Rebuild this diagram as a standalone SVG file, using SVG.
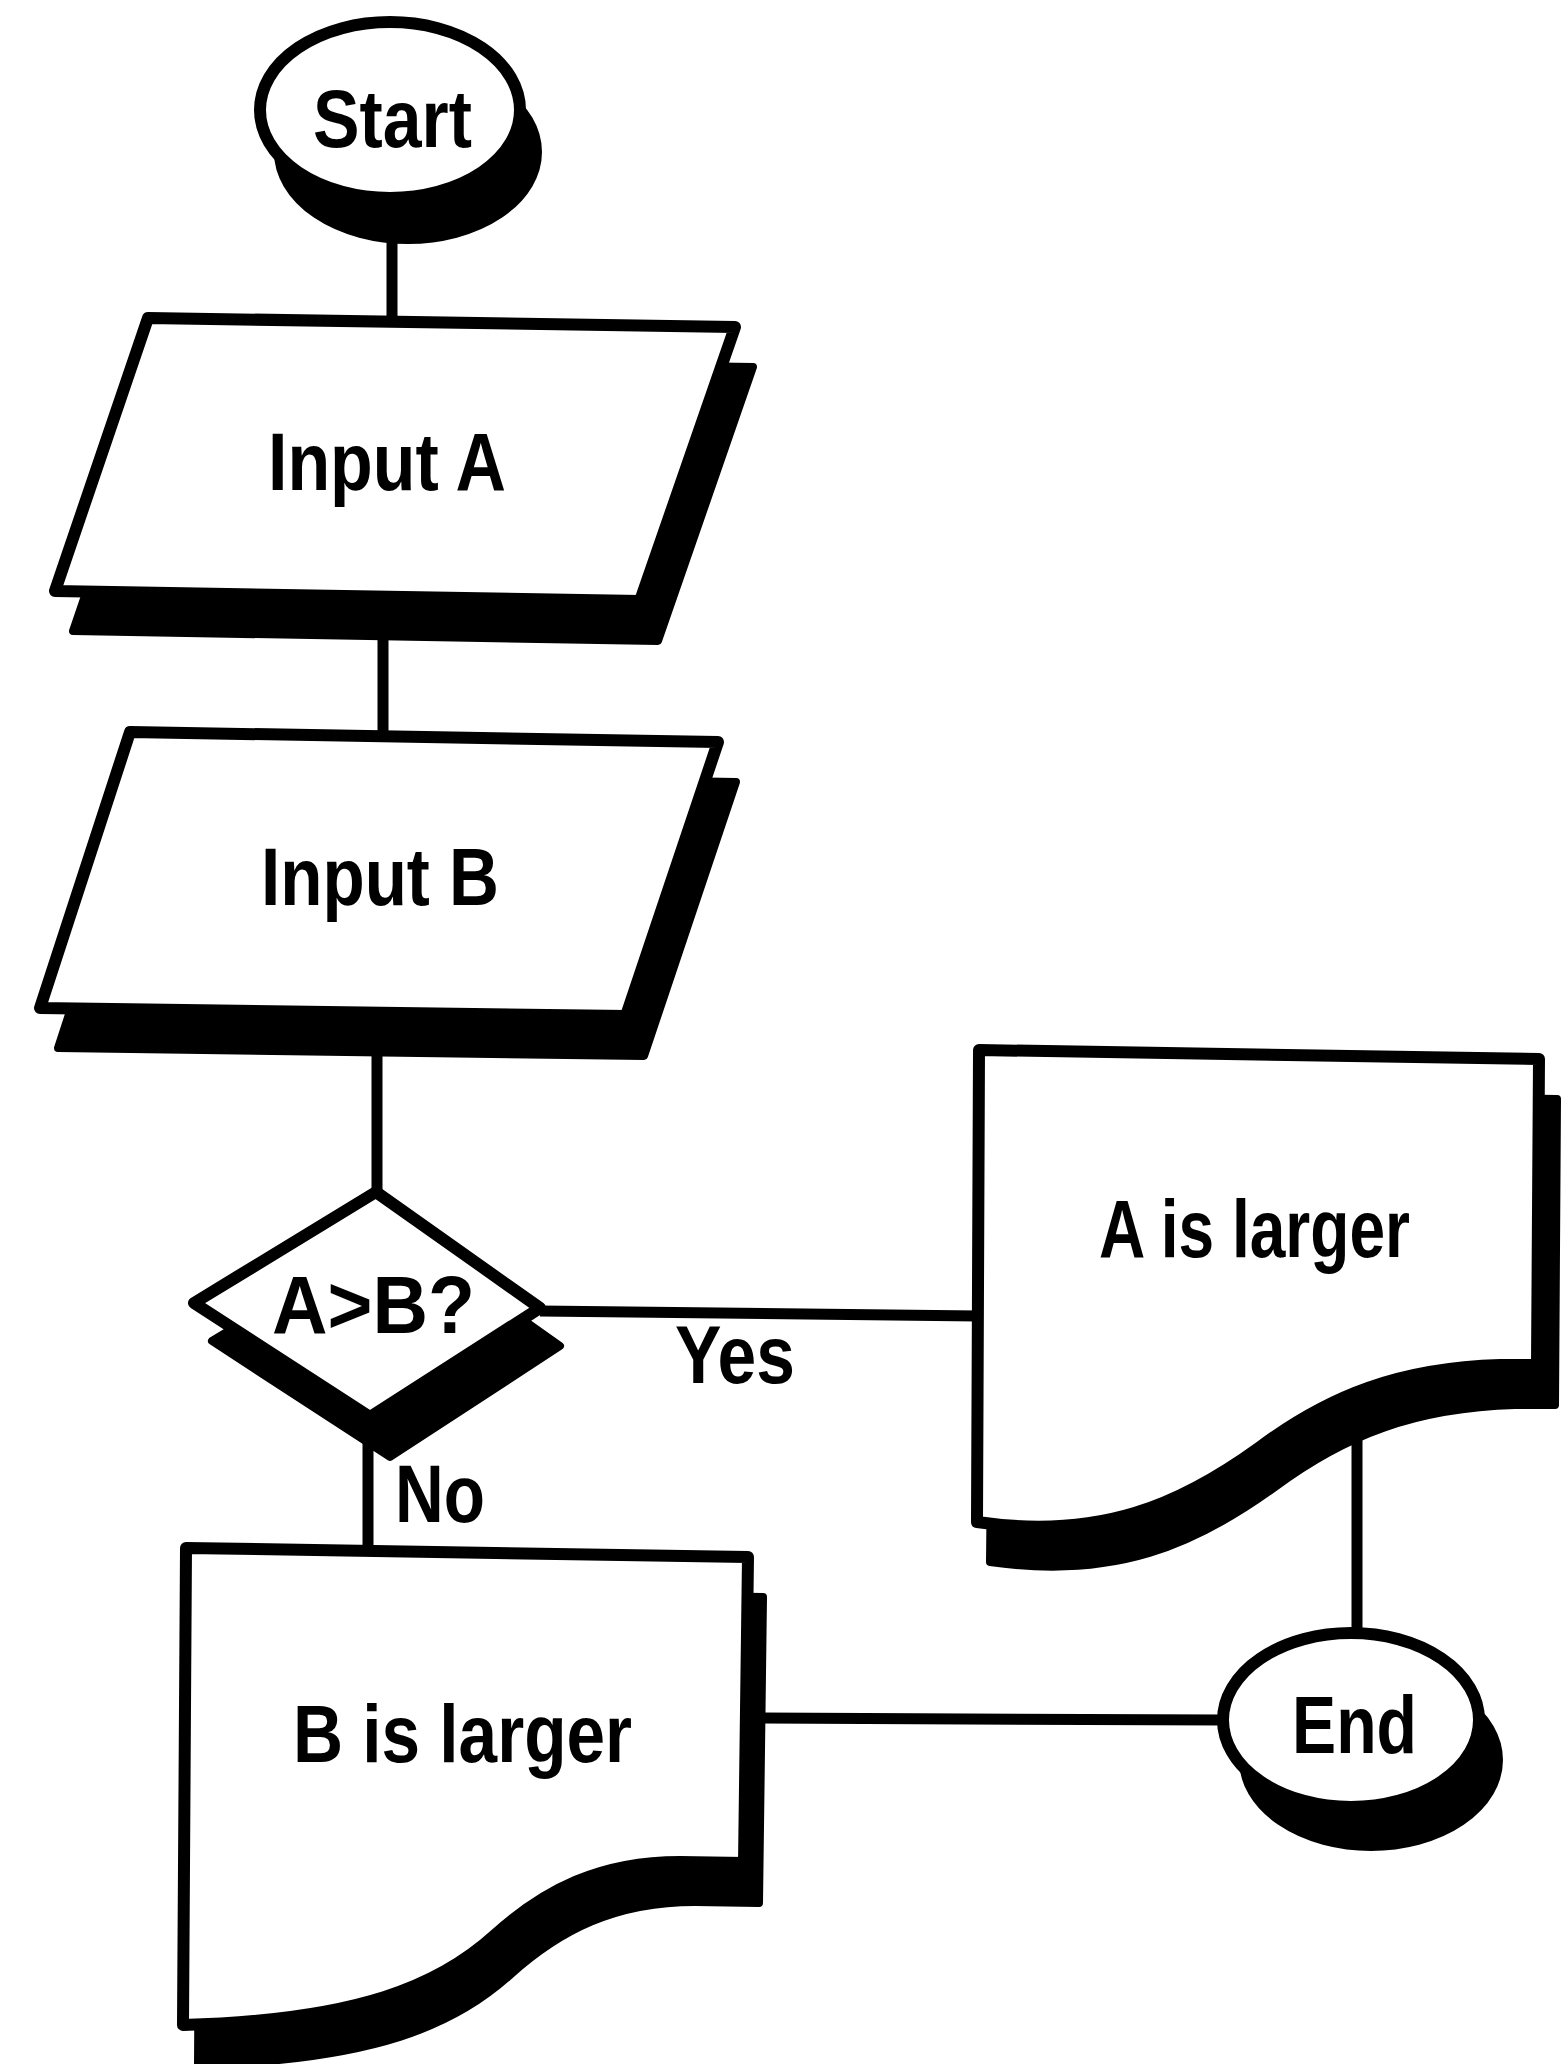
<svg xmlns="http://www.w3.org/2000/svg" width="1562" height="2064" viewBox="0 0 1562 2064">
<style>
.bg{fill:#fff}
.shadow{fill:#000;stroke:#000;stroke-width:8;stroke-linejoin:round}
.shape{fill:#fff;stroke:#000;stroke-width:12;stroke-linejoin:round}
.conn{stroke:#000;stroke-width:11;fill:none;stroke-linecap:butt}
.t{font-family:"Liberation Sans",Arial,Helvetica,sans-serif;font-weight:bold;font-size:82px;fill:#000}
</style>
<rect class="bg" x="0" y="0" width="1562" height="2064"/>
<g id="connectors">
  <line class="conn" x1="392" y1="200" x2="392" y2="320"/>
  <line class="conn" x1="383" y1="600" x2="383" y2="734"/>
  <line class="conn" x1="377" y1="1010" x2="377" y2="1192"/>
  <line class="conn" x1="540" y1="1311" x2="978" y2="1316"/>
  <line class="conn" x1="368" y1="1417" x2="368" y2="1548"/>
  <line class="conn" x1="1357" y1="1400" x2="1357" y2="1632"/>
  <line class="conn" x1="750" y1="1718" x2="1222" y2="1720"/>
</g>
<g id="node-start">
  <ellipse class="shadow" cx="408" cy="152" rx="130" ry="88"/>
  <ellipse class="shape" cx="390" cy="110" rx="130" ry="88"/>
  <text class="t" x="313" y="147" textLength="159" lengthAdjust="spacingAndGlyphs">Start</text>
</g>
<g id="node-inputA">
  <polygon class="shadow" points="166,358 753,367 658,641 73,631"/>
  <polygon class="shape" points="148,318 735,327 640,601 55,591"/>
  <text class="t" x="268" y="490" textLength="238" lengthAdjust="spacingAndGlyphs">Input A</text>
</g>
<g id="node-inputB">
  <polygon class="shadow" points="148,772 736,782 644,1056 58,1048"/>
  <polygon class="shape" points="130,732 718,742 626,1016 40,1008"/>
  <text class="t" x="261" y="905" textLength="238" lengthAdjust="spacingAndGlyphs">Input B</text>
</g>
<g id="node-decision">
  <polygon class="shadow" points="396,1230 560,1346 390,1457 212,1341"/>
  <polygon class="shape" points="376,1192 540,1308 370,1417 194,1303"/>
  <text class="t" x="272" y="1333" textLength="203" lengthAdjust="spacingAndGlyphs">A&gt;B?</text>
</g>
<g id="node-aLarger">
  <path class="shadow" d="M 995 1090 L 1557 1099 L 1555 1405 L 1515 1405 C 1415 1408, 1345 1435, 1275 1487 C 1195 1545, 1115 1580, 990 1562 Z"/>
  <path class="shape" d="M 979 1050 L 1539 1059 L 1537 1365 L 1500 1365 C 1400 1368, 1330 1395, 1260 1447 C 1180 1505, 1100 1540, 977 1522 Z"/>
  <text class="t" x="1099" y="1257" textLength="311" lengthAdjust="spacingAndGlyphs">A is larger</text>
</g>
<g id="node-bLarger">
  <path class="shadow" d="M 201 1588 L 763 1597 L 759 1903 L 695 1902 C 615 1902, 560 1930, 510 1975 C 455 2025, 375 2060, 198 2065 Z"/>
  <path class="shape" d="M 186 1548 L 748 1557 L 744 1863 L 680 1862 C 600 1862, 545 1890, 495 1935 C 440 1985, 360 2020, 183 2025 Z"/>
  <text class="t" x="293" y="1762" textLength="339" lengthAdjust="spacingAndGlyphs">B is larger</text>
</g>
<g id="node-end">
  <ellipse class="shadow" cx="1371" cy="1760" rx="128" ry="87"/>
  <ellipse class="shape" cx="1351" cy="1720" rx="128" ry="87"/>
  <text class="t" x="1292" y="1753" textLength="125" lengthAdjust="spacingAndGlyphs">End</text>
</g>
<g id="labels">
  <text class="t" x="675" y="1383" textLength="120" lengthAdjust="spacingAndGlyphs">Yes</text>
  <text class="t" x="395" y="1522" textLength="90" lengthAdjust="spacingAndGlyphs">No</text>
</g>
</svg>
